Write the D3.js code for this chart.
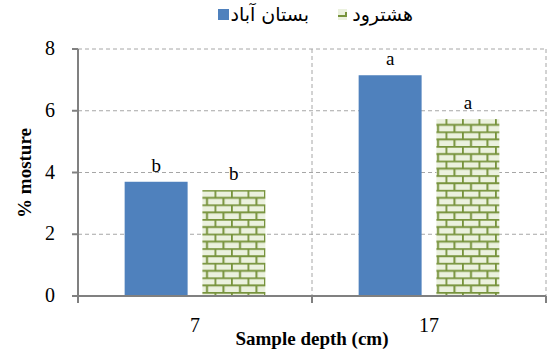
<!DOCTYPE html>
<html>
<head>
<meta charset="utf-8">
<script src="https://cdn.jsdelivr.net/npm/d3@7"></script>
<style>
  body { margin: 0; background: #fff; }
  svg { display: block; }
</style>
</head>
<body>
<div id="chart"></div>
<script>
// data
const depths = ["7", "17"];
const seriesNames = ["بستان آباد", "هشترود"];
const bostanabad = [3.7, 7.15];
const hashtrood = [3.43, 5.73];
const letters = [["b", "b"], ["a", "a"]];
const yTicks = [0, 2, 4, 6, 8];

const width = 548, height = 351;
const margin = { top: 49, right: 2, bottom: 55, left: 78 };
const serif = "'Liberation Serif', 'Times New Roman', serif";

const svg = d3.select("#chart").append("svg")
  .attr("width", width)
  .attr("height", height);

// brick pattern
const defs = svg.append("defs");
const pat = defs.append("pattern")
  .attr("id", "brick")
  .attr("patternUnits", "userSpaceOnUse")
  .attr("width", 16.5)
  .attr("height", 14.6);
pat.append("rect").attr("width", 16.5).attr("height", 14.6).attr("fill", "#ebf1de");
pat.append("path")
  .attr("d", "M0,0.8H16.5 M0,8.1H16.5 M0.8,0V8.1 M9,8.1V14.6")
  .attr("stroke", "#77933c")
  .attr("stroke-width", 2)
  .attr("fill", "none");

const x = d3.scaleBand()
  .domain(depths)
  .range([margin.left, width - margin.right]);

const y = d3.scaleLinear()
  .domain([0, 8])
  .range([height - margin.bottom, margin.top]);

const g = svg.append("g");

// grid lines
g.append("g")
  .selectAll("line")
  .data(yTicks.filter(d => d > 0))
  .join("line")
  .attr("x1", margin.left)
  .attr("x2", width - margin.right)
  .attr("y1", d => y(d))
  .attr("y2", d => y(d))
  .attr("stroke", "#a6a6a6")
  .attr("stroke-dasharray", "4,3");

g.append("g")
  .selectAll("line")
  .data([x("17"), width - margin.right])
  .join("line")
  .attr("x1", d => d)
  .attr("x2", d => d)
  .attr("y1", y(8))
  .attr("y2", y(0))
  .attr("stroke", "#a6a6a6")
  .attr("stroke-dasharray", "4,3");

// bars
const inner = d3.scaleBand()
  .domain([0, 1])
  .range([0, x.bandwidth()])
  .paddingInner(0.19)
  .paddingOuter(0.6);

const barData = depths.flatMap((d, i) => [
  { depth: d, s: 0, v: bostanabad[i], lab: letters[i][0] },
  { depth: d, s: 1, v: hashtrood[i], lab: letters[i][1] }
]);

g.append("g")
  .selectAll("rect")
  .data(barData)
  .join("rect")
  .attr("x", d => x(d.depth) + inner(d.s))
  .attr("y", d => y(d.v))
  .attr("width", inner.bandwidth())
  .attr("height", d => y(0) - y(d.v))
  .attr("fill", d => d.s === 0 ? "#4f81bd" : "url(#brick)");

g.append("g")
  .selectAll("text")
  .data(barData)
  .join("text")
  .attr("x", d => x(d.depth) + inner(d.s) + inner.bandwidth() / 2)
  .attr("y", d => y(d.v) - 10)
  .attr("text-anchor", "middle")
  .attr("font-family", serif)
  .attr("font-size", 19)
  .attr("fill", "#000")
  .text(d => d.lab);

// axes
const axisColor = "#808080";
g.append("line")
  .attr("x1", margin.left).attr("x2", margin.left)
  .attr("y1", y(8)).attr("y2", y(0))
  .attr("stroke", axisColor).attr("stroke-width", 2);
g.append("line")
  .attr("x1", margin.left - 6).attr("x2", width - margin.right)
  .attr("y1", y(0)).attr("y2", y(0))
  .attr("stroke", axisColor).attr("stroke-width", 2);

g.append("g")
  .selectAll("line")
  .data(yTicks)
  .join("line")
  .attr("x1", margin.left - 6).attr("x2", margin.left)
  .attr("y1", d => y(d)).attr("y2", d => y(d))
  .attr("stroke", axisColor).attr("stroke-width", 2);

g.append("g")
  .selectAll("line")
  .data([margin.left, x("17"), width - margin.right])
  .join("line")
  .attr("x1", d => d).attr("x2", d => d)
  .attr("y1", y(0)).attr("y2", y(0) + 7)
  .attr("stroke", axisColor).attr("stroke-width", 2);

g.append("g")
  .selectAll("text")
  .data(yTicks)
  .join("text")
  .attr("x", 50)
  .attr("y", d => y(d) + 6)
  .attr("text-anchor", "middle")
  .attr("font-family", serif)
  .attr("font-size", 20)
  .text(d => d);

g.append("g")
  .selectAll("text")
  .data(depths)
  .join("text")
  .attr("x", d => x(d) + x.bandwidth() / 2)
  .attr("y", 332)
  .attr("text-anchor", "middle")
  .attr("font-family", serif)
  .attr("font-size", 20)
  .text(d => d);

svg.append("text")
  .attr("x", 312)
  .attr("y", 345)
  .attr("text-anchor", "middle")
  .attr("font-family", serif)
  .attr("font-weight", "bold")
  .attr("font-size", 19)
  .text("Sample depth (cm)");

svg.append("text")
  .attr("transform", "translate(31,173) rotate(-90)")
  .attr("text-anchor", "middle")
  .attr("font-family", serif)
  .attr("font-weight", "bold")
  .attr("font-size", 19)
  .text("% mosture");

// legend
const legend = svg.append("g");
const legendX = [218, 338];
legend.append("rect")
  .attr("x", legendX[0]).attr("y", 9).attr("width", 11).attr("height", 11)
  .attr("fill", "#4f81bd");
legend.append("rect")
  .attr("x", legendX[1]).attr("y", 9).attr("width", 9).attr("height", 11)
  .attr("fill", "#ebf1de");
legend.append("path")
  .attr("d", `M${legendX[1]},16H${legendX[1] + 9} M${legendX[1] + 8},12V16`)
  .attr("stroke", "#77933c").attr("stroke-width", 2);
legend.selectAll("text")
  .data(seriesNames)
  .join("text")
  .attr("x", (d, i) => i === 0 ? 309 : 413)
  .attr("y", 21)
  .attr("text-anchor", "end")
  .attr("font-family", "'DejaVu Sans', sans-serif")
  .attr("font-size", 19)
  .text(d => d);
</script>
</body>
</html>
